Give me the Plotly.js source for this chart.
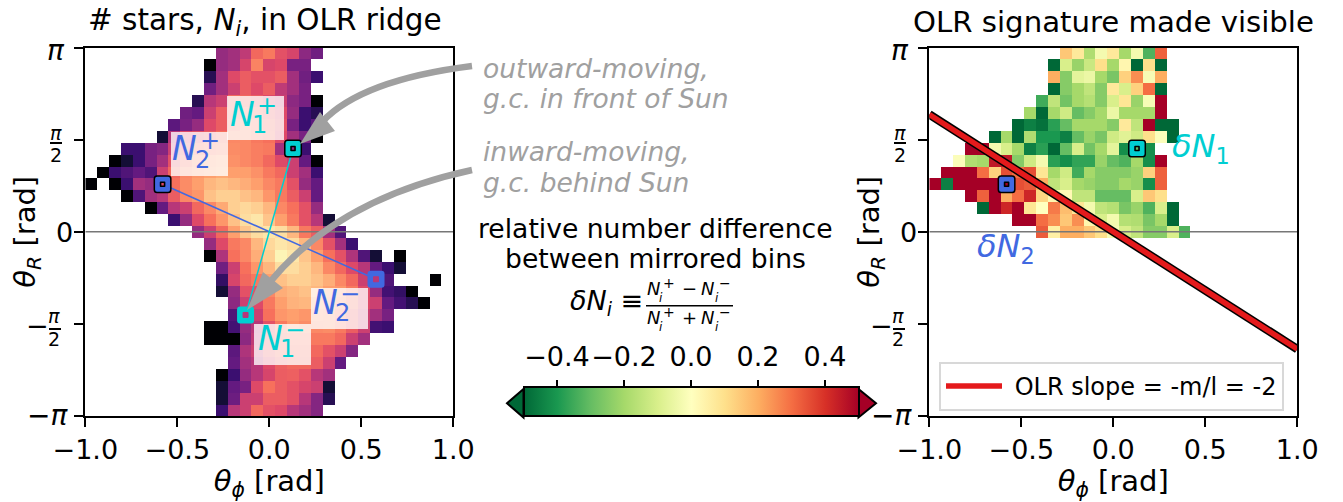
<!DOCTYPE html>
<html><head><meta charset="utf-8">
<script src="https://cdn.plot.ly/plotly-3.0.1.min.js"></script>
<style>
html,body{margin:0;padding:0;background:#fff}
#chart{width:1343px;height:502px}
.scatterlayer path.point{stroke-linejoin:round}
</style></head><body><div id="chart"></div>
<script>
// number of bins along each axis
const binCount = 31;
// stars per bin (colour fraction on a log scale), rows from theta_R = +pi downward: [first column, values...]
const starsRows = [
[11,.42,.45,.52,.68,.72,.62,.58,.4,.33],
[10,0,.42,.45,.58,.74,.58,.6,.35,.35],
[10,.15,.45,.6,.65,.62,.62,.65,.45,.33,.2],
[10,.33,.45,.55,.65,.6,.65,.52,.45,.35],
[9,.15,.5,.55,.68,.68,.65,.6,.55,.4,.35,0],
[8,.33,.3,.55,.65,.7,.72,.7,.65,.6,.42,.2,.15],
[7,.28,.35,.42,.6,.65,.72,.75,.72,.68,.62,.35,.2,.28],
[6,.1,.5,.6,.62,.65,.7,.75,.75,.72,.7,.6,.45,.35,0],
[3,.2,.2,.35,.38,.55,.65,.7,.72,.73,.76,.75,.73,.72,.45,.5,.2],
[2,0,.1,.2,.35,.45,.62,.7,.75,.78,.8,.77,.75,.73,.68,.6,.55,.3,0],
[1,0,.2,.25,.3,.25,.55,.68,.75,.78,.8,.82,.8,.8,.77,.72,.68,.55,.45,.2],
[0,0,null,0,.2,.45,.42,.55,.7,.76,.8,.85,.87,.85,.83,.8,.75,.72,.62,.42,.3],
[3,0,.25,.45,.5,.65,.75,.78,.87,.9,.9,.87,.85,.78,.72,.65,.55,.3],
[5,0,.3,.5,.55,.68,.75,.82,.9,.92,.9,.85,.75,.7,.62,.42],
[7,.2,.42,.6,.7,.78,.87,.93,.95,.88,.8,.72,.62,.5,.1],
[9,.42,.55,.68,.8,.88,.93,.95,.93,.85,.72,.65,.45,.25],
[10,.42,.6,.72,.75,.85,.92,.95,.93,.85,.75,.62,.45,.2],
[10,0,.48,.7,.75,.83,.9,.98,.95,.88,.8,.7,.62,.48,.25,.1,null,0],
[11,.33,.55,.7,.78,.85,.93,.93,.9,.85,.75,.68,.6,.5,.3,.2,.1],
[11,.18,.58,.68,.72,.8,.87,.9,.9,.87,.83,.75,.68,.55,.5,.25,null,null,null,0],
[11,.1,.42,.62,.62,.75,.83,.85,.87,.85,.8,.78,.72,.6,.42,.22,.18,0],
[12,.4,.55,.6,.72,.8,.84,.85,.8,.78,.75,.7,.6,.55,.3,.22,.15,0],
[12,.25,.45,.55,.7,.78,.8,.78,.77,.76,.72,.65,.55,.45,.35],
[10,0,0,.22,.42,.5,.62,.72,.78,.76,.75,.76,.72,.65,.55,.22,.2],
[10,0,0,0,.4,.52,.65,.7,.72,.72,.72,.72,.68,.55,.45],
[12,.28,.48,.55,.65,.7,.7,.7,.68,.62,.55,.38],
[12,.3,.45,.5,.6,.66,.68,.68,.65,.55,.3],
[11,0,.2,.42,.5,.58,.65,.66,.62,.5,.45],
[11,.1,.3,.35,.6,.7,.65,.62,.58,.55,.1],
[11,.1,.32,.55,.55,.65,.65,.62,.5,.38,.15],
[11,.2,.5,.55,.68,.62,.6,.5,.45,.38]
];
// relative number difference per bin, upper half only: [first column, values...]
const diffRows = [
[11,.15,.07,-.18,-.03,.07,-.2,-.03,-.33,.32],
[10,-.5,-.1,-.22,-.13,.1,-.2,.03,-.5,.1,-.5],
[10,.2,-.25,-.07,-.05,-.2,-.27,.13,.25,-.02,.2],
[10,-.5,-.25,-.2,-.15,-.25,.07,-.1,.13,.3,-.5],
[9,-.35,-.15,-.28,-.2,-.17,-.25,-.1,.08,-.22,-.02,.5],
[8,-.2,-.5,-.2,-.12,-.3,-.25,-.2,-.05,-.2,-.2,-.2,.5],
[7,-.5,-.45,-.48,-.38,-.3,-.2,-.2,-.2,-.25,.07,-.15,.5,-.5,-.5],
[5,-.5,-.2,-.5,-.18,-.4,-.4,-.45,-.3,-.22,-.27,-.12,-.08,-.12,.1,-.01,-.5],
[3,.5,.5,-.03,-.1,-.2,-.45,-.38,-.5,-.3,-.1,-.28,-.2,-.07,-.42,-.3,-.42],
[2,-.01,-.18,-.2,.45,.45,-.25,-.12,-.03,-.38,-.42,-.37,-.37,-.22,-.3,-.33,-.2,-.42,.5],
[1,.5,.5,.5,.3,.13,.35,.3,.35,.08,-.2,-.12,-.35,-.2,-.25,-.25,-.25,-.22,.13,.32],
[0,.5,-.45,.5,.5,.5,.5,.5,.35,.33,.2,-.15,-.1,-.2,-.22,-.25,-.25,-.2,-.22,-.42,.32],
[3,.5,.32,.5,.2,.3,.42,.12,.03,.02,-.15,-.15,-.3,-.3,-.3,-.1,.15,.1],
[4,-.5,.5,.42,.5,.08,0,.28,.17,.08,-.03,-.15,-.17,-.27,-.22,-.33,-.1,-.5],
[7,.5,.5,.3,.25,.15,.25,.03,-.1,-.03,-.17,-.18,-.27,-.2,-.5],
[9,.33,.05,.2,.2,.15,.1,-.02,-.1,-.15,-.25,-.25,-.1,-.33]
];
// marker bins: mirrored pairs (theta_phi, theta_R)
const ridge1X = [0.129, -0.129], ridge1Y = [1.419, -1.419];
const ridge2X = [-0.58, 0.58],  ridge2Y = [0.81, -0.81];
// OLR slope line
const slopeX = [-1, 1], slopeY = [2, -2];
const zeroX = [-1, 1], zeroY = [0, 0];
const xTickVals = [-1, -0.5, 0, 0.5, 1];
const xTickText = ['−1.0', '−0.5', '0.0', '0.5', '1.0'];
const yTickVals = [-Math.PI, -Math.PI/2, 0, Math.PI/2, Math.PI];
const cbRange = [-0.5, 0.5];
const cbTickVals = [-0.4, -0.2, 0, 0.2, 0.4];
const cbTickText = ['−0.4', '−0.2', '0.0', '0.2', '0.4'];

const magma = [[0,'#000004'],[.1,'#140e36'],[.2,'#3b0f70'],[.3,'#641a80'],[.4,'#8c2981'],[.5,'#b73779'],[.6,'#de4968'],[.7,'#f7705c'],[.8,'#fe9f6d'],[.9,'#fecf92'],[1,'#fcfdbf']];
const rdylgn = [[0,'#006837'],[.1,'#1a9850'],[.2,'#66bd63'],[.3,'#a6d96a'],[.4,'#d9ef8b'],[.5,'#ffffbf'],[.6,'#fee08b'],[.7,'#fdae61'],[.8,'#f46d43'],[.9,'#d73027'],[1,'#a50026']];
const TEAL = '#00ced1', BLUE = '#4169e1', GREY = '#a0a0a0', FONT = 'DejaVu Sans';

function expand(rows){
  const out = [];
  for (let j = 0; j < binCount; j++){
    const line = new Array(binCount).fill(null), r = rows[j];
    if (r) r.slice(1).forEach((v,k)=>{ line[r[0]+k] = v; });
    out.push(line);
  }
  return out.reverse();   // plotly rows run upward
}
const W = 1343, H = 502;
const px = x => x/W, py = y => 1-y/H;
const L1 = 85.3, R1 = 453.3, L2 = 929.3, R2 = 1297.3, TOP = 47.5, BOT = 416;
const CB0 = 523.5, CB1 = 858.5, CBT = 389, CBB = 417.5;

function heat(rows, cs, zmin, zmax, xa, ya, extra){
  return Object.assign({type:'heatmap', z:expand(rows), x0:-1+1/binCount, dx:2/binCount,
    y0:-Math.PI+Math.PI/binCount, dy:2*Math.PI/binCount, colorscale:cs, zmin, zmax, showscale:false,
    hoverongaps:false, xaxis:xa, yaxis:ya, zsmooth:false}, extra||{});
}
function line(x,y,color,w,xa,ya,extra){
  return Object.assign({type:'scatter',mode:'lines',x,y,line:{color,width:w},xaxis:xa,yaxis:ya,showlegend:false,hoverinfo:'skip'},extra||{});
}
function marks(x,y,color,center,outlined,xa,ya){
  const t=[];
  const base={type:'scatter',mode:'markers',x:[x],y:[y],xaxis:xa,yaxis:ya,showlegend:false,hoverinfo:'skip',cliponaxis:false};
  if(outlined){
    t.push(Object.assign({},base,{marker:{symbol:'square',size:11,color:'#000',line:{color:'#000',width:7}}}));
    t.push(Object.assign({},base,{marker:{symbol:'square',size:11,color,line:{color,width:4}}}));
    t.push(Object.assign({},base,{marker:{symbol:'square',size:4,color:center,line:{color:'#000',width:1.6}}}));
  } else {
    t.push(Object.assign({},base,{marker:{symbol:'square',size:11,color,line:{color,width:6}}}));
    t.push(Object.assign({},base,{marker:{symbol:'square',size:5,color:center,line:{color:center,width:1}}}));
  }
  return t;
}
const data = [
  heat(starsRows, magma, 0, 1, 'x', 'y'),
  line(zeroX, zeroY, '#777777', 1.6, 'x', 'y'),
  line([ridge2X[0],ridge2X[1]],[ridge2Y[0],ridge2Y[1]],BLUE,1.5,'x','y'),
  line([ridge1X[0],ridge1X[1]],[ridge1Y[0],ridge1Y[1]],TEAL,1.5,'x','y'),
  ...marks(ridge1X[0],ridge1Y[0],TEAL,'#8c2981',true,'x','y'),
  ...marks(ridge2X[0],ridge2Y[0],BLUE,'#de4968',true,'x','y'),
  ...marks(ridge1X[1],ridge1Y[1],TEAL,'#b73779',false,'x','y'),
  ...marks(ridge2X[1],ridge2Y[1],BLUE,'#b73779',false,'x','y'),
  heat(diffRows, rdylgn, cbRange[0], cbRange[1], 'x2', 'y2', {showscale:true, colorbar:{
    orientation:'h', x:(CB0+CB1)/2/W, xanchor:'center', y:py(CBB), yanchor:'bottom', yref:'paper',
    len:CB1-CB0, lenmode:'pixels', thickness:CBB-CBT, thicknessmode:'pixels', xpad:0, ypad:0,
    outlinewidth:2, outlinecolor:'#000', borderwidth:0, ticks:'', showticklabels:false
  }}),
  line(zeroX, zeroY, '#777777', 1.6, 'x2', 'y2'),
  line(slopeX, slopeY, '#000', 8.5, 'x2', 'y2'),
  line(slopeX, slopeY, '#e41a1c', 5.5, 'x2', 'y2', {showlegend:true, name:'\u00a0OLR slope = -m/l = -2'}),
  ...marks(ridge1X[0],ridge1Y[0],TEAL,'#66bd63',true,'x2','y2'),
  ...marks(ridge2X[0],ridge2Y[0],BLUE,'#a50026',true,'x2','y2'),
  {type:'scatter',mode:'none',x:cbRange,y:[0,0],xaxis:'x3',yaxis:'y3',showlegend:false,hoverinfo:'skip'}
];

const ann = [];
function T(x,y,text,size,color,anchor,extra){
  ann.push(Object.assign({xref:'paper',yref:'paper',x:px(x),y:py(y),text,showarrow:false,
    font:{family:FONT,size,color:color||'#000'},xanchor:anchor||'center',yanchor:'middle',borderpad:0,borderwidth:0},extra||{}));
}
const shapes = [];
function rect(x0,y0,x1,y1,fill){
  shapes.push({type:'rect',xref:'paper',yref:'paper',x0:px(x0),x1:px(x1),y0:py(y0),y1:py(y1),fillcolor:fill,line:{width:0},layer:'above'});
}
function path(pts,opts){
  shapes.push(Object.assign({type:'path',xref:'paper',yref:'paper',layer:'above',path:pts},opts));
}
const p = (x,y) => px(x)+' '+py(y);

// titles
T(265,22,'# stars, <i>N</i><sub><i>i</i></sub>, in OLR ridge',29.5);
T(1113,22,'OLR signature made visible',29.2);

// y tick labels, both panels
[0,844].forEach(d=>{
  T(56+d,50,'<i>π</i>',28);
  T(47+d,415,'−<i>π</i>',28);
  T(56+d,133,'<i>π</i>',19);
  T(56+d,155,'2',19);
  T(54+d,316,'<i>π</i>',19);
  T(54+d,339,'2',19);
  T(37.5+d,325,'−',27);
  T(64+d,232,'0',27);
  rect(50+d,142,62+d,144,'#000');
  rect(49+d,328,61+d,330,'#000');
});

// label boxes in the left panel
rect(227,96,284,140,'rgba(255,255,255,.78)');
rect(171,132,228,176,'rgba(255,255,255,.78)');
rect(311,288,368,329,'rgba(255,255,255,.78)');
rect(254,324,311,365,'rgba(255,255,255,.78)');
function NL(x,y,sub,sup,c){
  T(x+2,y,'<i>N</i>',33,c);
  T(x+19,y+11,sub,24,c);
  T(x+27,y-8,sup,24,c);
}
NL(240,114,'1','+',TEAL);
NL(183,149,'2','+',BLUE);
NL(323,302,'2','−',BLUE);
NL(268,338,'1','−',TEAL);

// right panel labels
T(1172,148,'<i>δN</i><sub>1</sub>',32,TEAL,'left');
T(977,248,'<i>δN</i><sub>2</sub>',32,BLUE,'left');

// arrow captions
T(483,68,'<i>outward-moving,</i>',26.5,GREY,'left');
T(483,98,'<i>g.c. in front of Sun</i>',26.5,GREY,'left');
T(483,152,'<i>inward-moving,</i>',26.5,GREY,'left');
T(483,182,'<i>g.c. behind Sun</i>',26.5,GREY,'left');

// colour bar caption
T(655,228,'relative number difference',26.6);
T(655,258,'between mirrored bins',26.6);
T(606,302,'<i>δN</i><sub><i>i</i></sub> ≡',27);
function frac(y,op){
  T(653,y,'<i>N</i>',18); T(661,y+10,'<i>i</i>',12); T(669,y-5,'+',14);
  T(689,y,op,18);
  T(708,y,'<i>N</i>',18); T(717,y+10,'<i>i</i>',12); T(725,y-5,'−',14);
}
frac(288,'−'); frac(317,'+');
rect(646,305,733,306.6,'#000');

// arrows
path('M '+p(472,66)+' Q '+p(361,80)+' '+p(322,122),{line:{color:GREY,width:6.5}});
path('M '+p(300,144)+' L '+p(320,112)+' L '+p(335,131)+' Z',{fillcolor:GREY,line:{color:GREY,width:0}});
path('M '+p(472,170)+' Q '+p(338,199)+' '+p(270,282),{line:{color:GREY,width:6.5}});
path('M '+p(247,310)+' L '+p(263,272)+' L '+p(283,288)+' Z',{fillcolor:GREY,line:{color:GREY,width:0}});

// colour bar extensions
path('M '+p(CB0,CBT)+' L '+p(507,(CBT+CBB)/2)+' L '+p(CB0,CBB)+' Z',{fillcolor:'#006837',line:{color:'#000',width:2}});
path('M '+p(CB1,CBT)+' L '+p(876,(CBT+CBB)/2)+' L '+p(CB1,CBB)+' Z',{fillcolor:'#a50026',line:{color:'#000',width:2}});

function xax(dom,title,anchor){
  return {domain:dom,range:[-1,1],anchor,tickmode:'array',tickvals:xTickVals,ticktext:xTickText,ticks:'outside',ticklen:9,tickwidth:2,tickcolor:'#000',
    showline:true,mirror:true,linecolor:'#000',linewidth:2,showgrid:false,zeroline:false,automargin:true,tickangle:0,
    tickfont:{family:FONT,size:27,color:'#000'},title:{text:title,font:{family:FONT,size:29,color:'#000'},standoff:5}};
}
function yax(title,anchor){
  return {domain:[py(BOT),py(TOP)],range:[-Math.PI,Math.PI],anchor,tickmode:'array',tickvals:yTickVals,ticks:'outside',ticklen:9,tickwidth:2,tickcolor:'#000',
    showline:true,mirror:true,linecolor:'#000',linewidth:2,showgrid:false,zeroline:false,showticklabels:false,automargin:true,
    title:{text:title,font:{family:FONT,size:29,color:'#000'},standoff:30}};
}
const xT='<i>θ</i><sub><i>ϕ</i></sub> [rad]', yT='<i>θ</i><sub><i>R</i></sub> [rad]';
const layout = {
  width:W,height:H,margin:{l:0,r:0,t:0,b:0,pad:0,autoexpand:false},paper_bgcolor:'#fff',plot_bgcolor:'#fff',
  font:{family:FONT,color:'#000'},
  xaxis:xax([px(L1),px(R1)],xT,'y'),yaxis:yax(yT,'x'),
  xaxis2:xax([px(L2),px(R2)],xT,'y2'),yaxis2:yax(yT,'x2'),
  xaxis3:{domain:[px(CB0),px(CB1)],range:cbRange,anchor:'y3',side:'top',tickmode:'array',tickvals:cbTickVals,ticktext:cbTickText,
    ticks:'outside',ticklen:8,tickwidth:2,tickcolor:'#000',showline:false,showgrid:false,zeroline:false,tickangle:0,ticklabelstandoff:3,
    tickfont:{family:FONT,size:27,color:'#000'}},
  yaxis3:{domain:[py(CBB),py(CBT)],range:[-1,1],anchor:'x3',visible:false},
  annotations:ann,shapes,
  showlegend:true,
  legend:{x:px(939),y:py(362),xanchor:'left',yanchor:'top',bgcolor:'#fff',bordercolor:'#d8d8d8',borderwidth:2,
    font:{family:FONT,size:24,color:'#000'},itemwidth:56,itemclick:false,itemdoubleclick:false}
};
Plotly.newPlot('chart',data,layout,{displayModeBar:false,staticPlot:true});
</script></body></html>
